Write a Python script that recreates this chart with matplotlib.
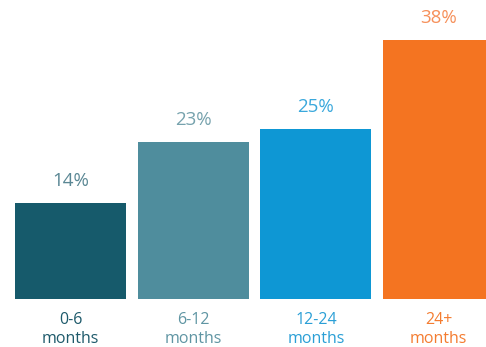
import matplotlib
matplotlib.use("Agg")
import matplotlib.pyplot as plt

categories = ["0-6\nmonths", "6-12\nmonths", "12-24\nmonths", "24+\nmonths"]
values = [14, 23, 25, 38]
bar_colors = ["#165a6b", "#4f8d9d", "#0e97d4", "#f47421"]
value_colors = ["#5a8794", "#76a2ad", "#3aa8dc", "#f6905a"]
label_colors = ["#1e5a6b", "#5f95a3", "#2a9fd6", "#f47c30"]

W, H = 486, 347
fig = plt.figure(figsize=(W / 100, H / 100), dpi=100)
ax = fig.add_axes([0, (H - 298.5) / H, 1, 298.5 / H])

x = list(range(len(values)))
ax.bar(x, values, width=0.905, color=bar_colors)
ax.set_xlim(-0.575, 3.387)
ax.set_ylim(0, 298.5 / 6.79)
ax.axis("off")

for xi, v, c in zip(x, values, value_colors):
    ax.annotate(f"{v}%", (xi, v), xytext=(0, 9.5), textcoords="offset points",
                ha="center", va="bottom", fontsize=13.5, color=c,
                family="Open Sans")

for xi, lab, c in zip(x, categories, label_colors):
    ax.annotate(lab, (xi, 0), xytext=(0, -9.5), textcoords="offset points",
                ha="center", va="top", fontsize=11.5, color=c,
                family="Open Sans", linespacing=1.25)

fig.savefig("out.png", dpi=100)
